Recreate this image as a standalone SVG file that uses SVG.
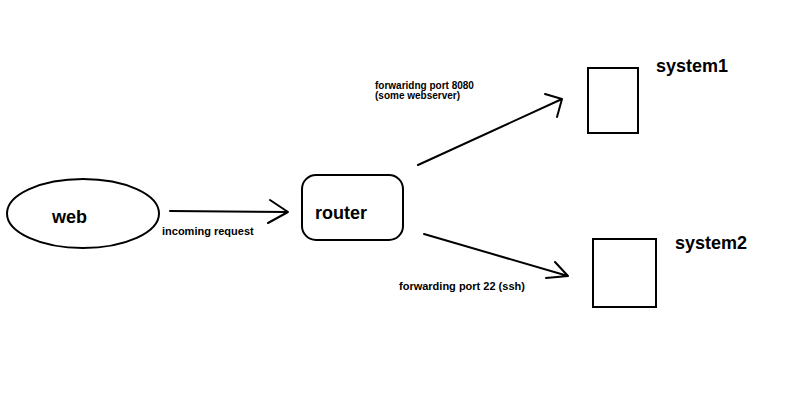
<svg xmlns="http://www.w3.org/2000/svg" width="800" height="400" viewBox="0 0 800 400">
<style>
.s{fill:#fff;stroke:#000;stroke-width:2}
.c{fill:none;stroke:#000;stroke-width:2;stroke-linecap:round;stroke-linejoin:round}
.t{font-family:"Liberation Sans",Arial,sans-serif;font-weight:bold;fill:#000}
.big{font-size:18px}
.sm{font-size:11px}
.xs{font-size:10px}
</style>
<rect width="800" height="400" fill="#fff"/>
<g id="web"><ellipse class="s" cx="83" cy="213.5" rx="76" ry="34.5"/><text class="t big" x="52" y="223">web</text></g>
<g id="router"><rect class="s" x="302" y="175" width="101" height="65" rx="14"/><text class="t big" x="315" y="219">router</text></g>
<g id="system1"><rect class="s" x="588" y="68" width="50" height="65"/><text class="t big" x="656" y="72">system1</text></g>
<g id="system2"><rect class="s" x="593" y="239" width="63" height="68"/><text class="t big" x="675" y="249">system2</text></g>
<g id="connectors">
<path class="c" d="M170 211 L288 212 M270 200 L288 212 L268 223"/>
<path class="c" d="M418 165 L562 99 M545 94 L562 99 L557 117"/>
<path class="c" d="M424 234 L568 276 M555 262 L568 276 L546 278"/>
<text class="t sm" x="162" y="235">incoming request</text>
<text class="t xs" x="375" y="89">forwaridng port 8080</text>
<text class="t xs" x="375" y="99">(some webserver)</text>
<text class="t sm" x="399" y="290">forwarding port 22 (ssh)</text>
</g>
</svg>
